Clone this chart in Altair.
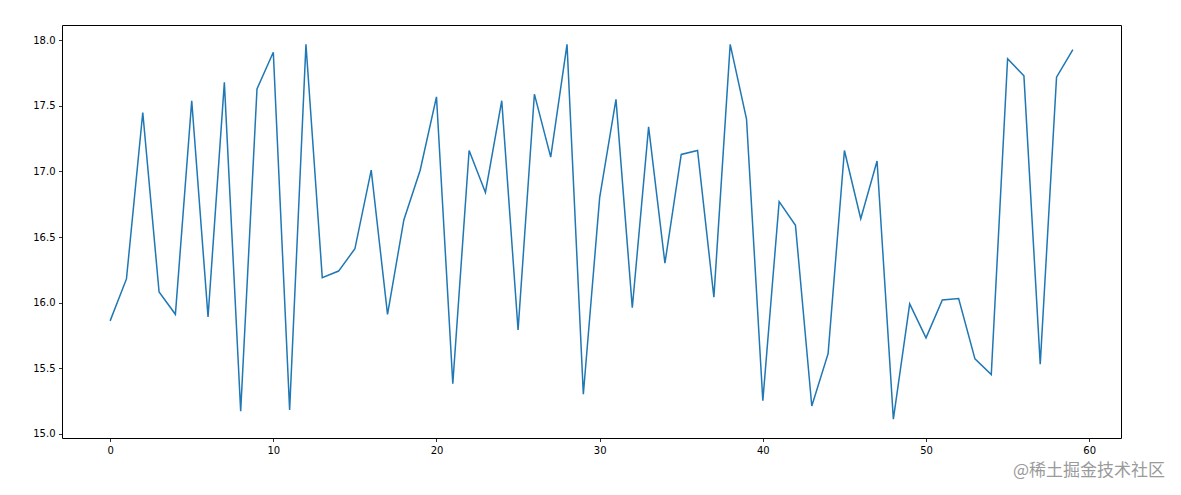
import altair as alt
import pandas as pd

xs = list(range(60))
values = [15.86, 16.18, 17.45, 16.08, 15.91, 17.54, 15.89, 17.68, 15.17, 17.63,
          17.91, 15.18, 17.97, 16.19, 16.24, 16.41, 17.01, 15.91, 16.63, 17.01,
          17.57, 15.38, 17.16, 16.84, 17.54, 15.79, 17.59, 17.11, 17.97, 15.30,
          16.80, 17.55, 15.96, 17.34, 16.30, 17.13, 17.16, 16.04, 17.97, 17.40,
          15.25, 16.77, 16.59, 15.21, 15.61, 17.16, 16.64, 17.08, 15.11, 15.99,
          15.73, 16.02, 16.03, 15.57, 15.45, 17.86, 17.73, 15.53, 17.72, 17.93]
x_ticks = [0, 10, 20, 30, 40, 50, 60]
y_ticks = [15.0, 15.5, 16.0, 16.5, 17.0, 17.5, 18.0]
watermark = ["@稀土掘金技术社区"]

df = pd.DataFrame({"x": xs, "y": values})

axis_common = dict(
    grid=False, domain=False, tickColor="#000000", tickSize=3.5, tickWidth=0.8,
    labelFont="DejaVu Sans", labelFontSize=10, labelColor="#000000", labelPadding=3.5,
    title=None,
)

line = alt.Chart(df).mark_line(color="#1f77b4", strokeWidth=1.5).encode(
    x=alt.X("x:Q", scale=alt.Scale(domain=[-2.95, 61.95], nice=False, zero=False),
            axis=alt.Axis(values=x_ticks, format="d", **axis_common)),
    y=alt.Y("y:Q", scale=alt.Scale(domain=[14.966, 18.118], nice=False, zero=False),
            axis=alt.Axis(values=y_ticks, format=".1f", **axis_common)),
)

wm = alt.Chart(pd.DataFrame({"t": watermark})).mark_text(
    align="right", baseline="middle", fontSize=17, color="#9a9a9a",
    font="Noto Sans CJK SC", clip=False,
).encode(text="t:N", x=alt.value(1103), y=alt.value(446))

chart = alt.layer(line, wm).properties(
    width=1059, height=413,
    autosize=alt.AutoSizeParams(type="none"),
    padding={"left": 54, "top": 17, "right": 50, "bottom": 55},
).configure(background="white").configure_view(stroke="#000000", strokeWidth=1)

chart.save("out.html", embed_options={"renderer": "svg", "actions": False})
